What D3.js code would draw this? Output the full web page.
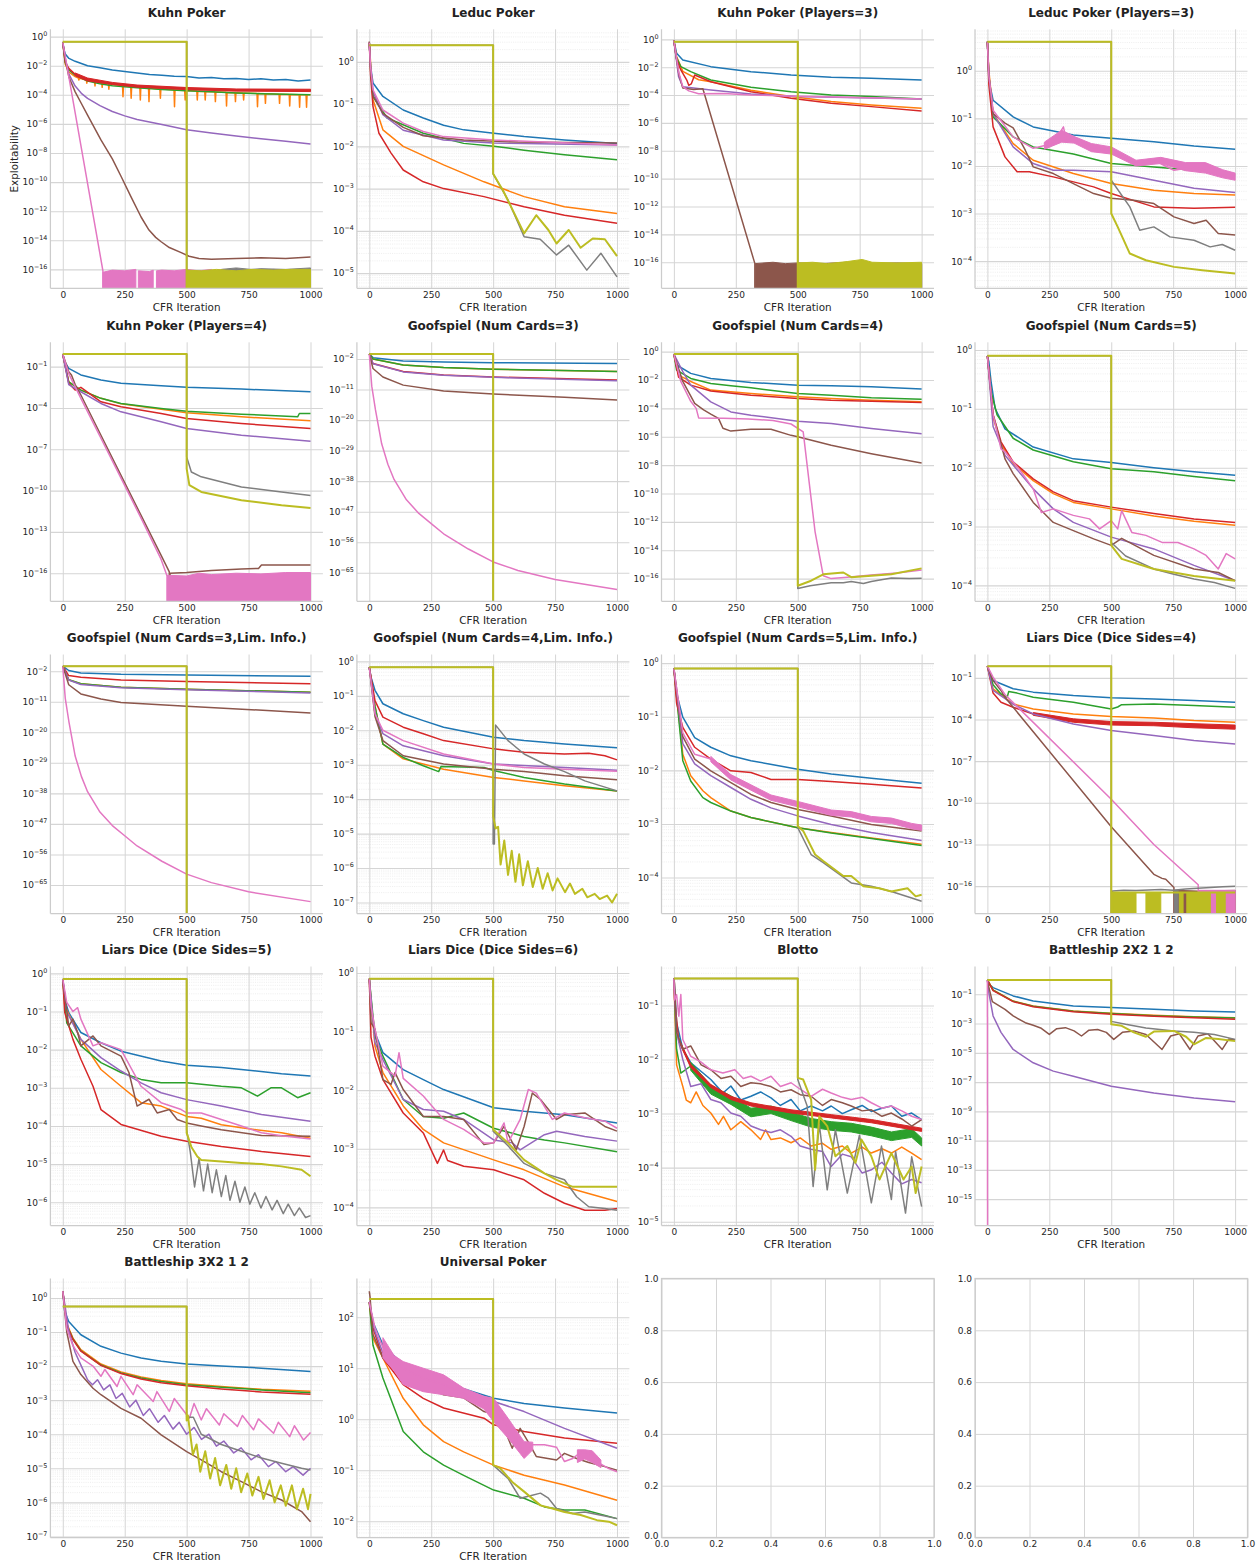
<!DOCTYPE html>
<html><head><meta charset="utf-8">
<script src="https://cdn.jsdelivr.net/npm/d3@7"></script>
<style>body{margin:0;background:#fff} svg{display:block} text{font-family:"DejaVu Sans",sans-serif}</style>
</head><body><svg id="c" width="1260" height="1566"></svg>
<script>
// ---------- DATA ----------
const COLORS = ["#1f77b4","#ff7f0e","#2ca02c","#d62728","#9467bd","#8c564b","#e377c2","#7f7f7f","#bcbd22"];
const TITLES = ["Kuhn Poker","Leduc Poker","Kuhn Poker (Players=3)","Leduc Poker (Players=3)",
 "Kuhn Poker (Players=4)","Goofspiel (Num Cards=3)","Goofspiel (Num Cards=4)","Goofspiel (Num Cards=5)",
 "Goofspiel (Num Cards=3,Lim. Info.)","Goofspiel (Num Cards=4,Lim. Info.)","Goofspiel (Num Cards=5,Lim. Info.)","Liars Dice (Dice Sides=4)",
 "Liars Dice (Dice Sides=5)","Liars Dice (Dice Sides=6)","Blotto","Battleship 2X2 1 2",
 "Battleship 3X2 1 2","Universal Poker"];
const X_LABEL = "CFR Iteration";
const Y_LABEL = "Exploitability";
const X_TICKS = [0,250,500,750,1000];
const EMPTY_TICKS = [0,0.2,0.4,0.6,0.8,1.0];
// y limits as log10 exponents [bottom, top]
const Y_LIMITS = [[-17.3,0.5],[-5.36,0.77],[-17.87,0.72],[-4.57,0.87],[-18.04,0.77],[-73.4,2.92],[-17.6,0.66],[-4.27,0.13],
 [-73.4,2.92],[-7.32,0.2],[-4.67,0.16],[-17.97,0.68],[-6.61,0.18],[-4.31,0.11],[-5.07,-0.28],[-16.8,0.9],[-7.03,0.57],[-2.32,2.76]];
// y major tick exponents [lowest, highest, step]
const Y_TICK_RULES = [[-16,0,2],[-5,0,1],[-16,0,2],[-4,0,1],[-16,-1,3],[-65,-2,9],[-16,0,2],[-4,0,1],
 [-65,-2,9],[-7,0,1],[-4,0,1],[-16,-1,3],[-6,0,1],[-4,0,1],[-5,-1,1],[-15,-1,2],[-7,0,1],[-2,2,1]];

// Each panel: 9 series (blue, orange, green, red, purple, brown, pink, gray, olive),
// each a flat list of [iteration, log10(exploitability)] pairs. -99 = zero (clipped to axis bottom).
const KUHN = [
 [0,-0.4,5,-0.9,10,-1.2,25,-1.5,50,-1.7,75,-1.85,100,-2.0,150,-2.15,200,-2.3,250,-2.4,300,-2.5,350,-2.6,400,-2.65,450,-2.72,500,-2.75,550,-2.85,600,-2.82,650,-2.9,700,-2.88,750,-2.95,800,-2.9,850,-2.98,900,-2.95,950,-3.05,1000,-2.98],
 [0,-0.4,10,-1.9,25,-2.45,50,-2.75,63,-2.85,65,-2.98,67,-2.87,95,-2.98,97,-3.2,99,-3.0,128,-3.08,130,-3.39,132,-3.1,157,-3.15,159,-3.49,161,-3.17,184,-3.22,186,-3.62,188,-3.24,241,-3.35,243,-4.13,245,-3.36,274,-3.42,276,-4.24,278,-3.43,311,-3.48,313,-4.36,315,-3.49,346,-3.53,348,-4.47,350,-3.54,392,-3.6,394,-4.24,396,-3.6,449,-3.66,451,-4.82,453,-3.67,492,-3.7,494,-4.36,496,-3.71,541,-3.74,543,-4.36,545,-3.75,573,-3.77,575,-4.36,577,-3.78,614,-3.8,616,-4.47,618,-3.81,659,-3.83,661,-4.77,663,-3.84,695,-3.86,697,-4.47,699,-3.86,728,-3.88,730,-4.36,732,-3.88,784,-3.91,786,-4.82,788,-3.91,816,-3.93,818,-4.59,820,-3.93,873,-3.96,875,-4.59,877,-3.96,914,-3.98,916,-4.77,918,-3.98,954,-4.0,956,-4.86,958,-4.0,982,-4.0,984,-4.86,986,-4.0,1000,-4.0],
 [0,-0.4,10,-1.8,25,-2.3,50,-2.65,100,-3.05,150,-3.25,200,-3.38,300,-3.52,400,-3.63,500,-3.72,600,-3.8,700,-3.87,800,-3.93,900,-3.97,1000,-4.0],
 [0,-0.4,10,-1.75,25,-2.2,50,-2.6,100,-2.95,150,-3.12,200,-3.23,300,-3.4,400,-3.5,500,-3.57,600,-3.62,700,-3.66,800,-3.68,900,-3.7,1000,-3.7],
 [0,-0.4,5,-1.0,10,-1.5,25,-2.6,50,-3.4,75,-3.9,100,-4.25,150,-4.75,200,-5.15,250,-5.45,300,-5.7,400,-6.05,500,-6.4,600,-6.62,700,-6.83,800,-7.02,900,-7.2,1000,-7.38],
 [0,-0.4,10,-1.6,25,-2.8,50,-3.8,75,-4.6,100,-5.4,154,-7.1,200,-8.4,235,-9.6,275,-11.0,316,-12.4,348,-13.3,375,-13.8,397,-14.1,430,-14.5,478,-14.85,510,-15.1,550,-15.25,600,-15.3,700,-15.25,800,-15.2,900,-15.25,1000,-15.15],
 [0,-0.4,162,-16.1,163,-99],
 [0,-0.35,500,-0.35,500,-99],
 [0,-0.35,500,-0.35,500,-99]
];
const LEDUC = [
 [0,0.45,5,-0.1,15,-0.5,55,-0.82,137,-1.14,218,-1.33,300,-1.5,381,-1.61,503,-1.69,625,-1.77,788,-1.85,1000,-1.93],
 [0,0.45,5,0.0,15,-0.9,55,-1.61,137,-2.0,300,-2.44,463,-2.84,625,-3.19,788,-3.43,1000,-3.59],
 [0,0.45,5,-0.1,15,-0.82,72,-1.33,218,-1.69,381,-1.93,503,-2.0,625,-2.09,788,-2.2,1000,-2.32],
 [0,0.45,5,-0.3,15,-1.06,39,-1.69,88,-2.16,137,-2.56,218,-2.84,300,-3.0,463,-3.19,625,-3.43,788,-3.63,1000,-3.82],
 [0,0.45,5,-0.1,15,-0.7,55,-1.25,137,-1.62,300,-1.85,500,-1.92,1000,-1.97],
 [0,0.48,5,-0.2,15,-0.8,55,-1.22,137,-1.55,218,-1.75,381,-1.85,600,-1.9,1000,-1.92],
 [0,0.45,5,-0.1,15,-0.66,55,-1.14,137,-1.45,218,-1.65,300,-1.77,503,-1.85,1000,-1.97],
 [0,0.39,500,0.39,500,-2.65,560,-3.27,625,-4.14,690,-4.2,756,-4.57,805,-4.34,878,-4.93,935,-4.53,1000,-5.09],
 [0,0.39,500,0.39,500,-2.65,542,-3.07,625,-4.06,674,-3.63,723,-3.98,756,-4.3,805,-3.98,853,-4.4,902,-4.18,951,-4.2,1000,-4.6]
];
const KUHN3 = [
 [0,-0.1,11,-1.0,36,-1.48,149,-1.96,311,-2.32,473,-2.56,635,-2.73,797,-2.8,1000,-2.92],
 [0,-0.1,10,-1.2,36,-2.3,100,-2.9,149,-3.04,311,-3.66,473,-4.11,635,-4.47,797,-4.71,1000,-4.95],
 [0,-0.1,10,-1.3,28,-1.96,68,-2.32,149,-2.92,311,-3.44,473,-3.76,635,-4.0,797,-4.11,1000,-4.28],
 [0,-0.1,10,-1.4,28,-2.2,52,-2.92,60,-3.3,70,-3.2,84,-2.56,149,-3.04,311,-3.76,473,-4.23,635,-4.59,797,-4.83,1000,-5.14],
 [0,-0.1,19,-2.68,36,-3.4,149,-3.64,311,-3.92,500,-4.11,1000,-4.28],
 [0,-0.1,20,-2.5,36,-3.5,80,-3.6,117,-3.55,327,-16.1,328,-99],
 [0,-0.1,20,-2.4,36,-3.4,60,-3.7,100,-3.9,200,-3.88,311,-4.0,500,-4.08,700,-4.15,1000,-4.28],
 [0,-0.17,500,-0.17,500,-99],
 [0,-0.17,500,-0.17,500,-99]
];
const LEDUC3 = [
 [0,0.61,6,-0.2,23,-0.62,104,-0.97,185,-1.18,347,-1.35,500,-1.42,672,-1.49,834,-1.58,1000,-1.65],
 [0,0.61,6,0.0,23,-0.9,104,-1.53,185,-1.88,347,-2.16,500,-2.37,672,-2.51,834,-2.58,1000,-2.61],
 [0,0.61,6,-0.1,23,-0.97,104,-1.39,185,-1.6,347,-1.75,500,-1.95,672,-2.02,834,-2.09,1000,-2.19],
 [0,0.61,6,-0.3,23,-1.18,71,-1.81,120,-2.12,169,-2.12,266,-2.23,429,-2.44,500,-2.58,672,-2.86,834,-2.89,1000,-2.87],
 [0,0.61,6,-0.1,23,-0.9,104,-1.6,185,-1.95,266,-2.09,347,-2.09,500,-2.12,672,-2.3,834,-2.47,1000,-2.56],
 [0,0.61,6,-0.1,23,-0.9,71,-1.1,104,-1.2,153,-1.67,185,-2.02,266,-2.16,347,-2.37,429,-2.58,500,-2.68,591,-2.72,672,-2.79,753,-3.07,834,-3.21,883,-3.14,932,-3.42,1000,-3.45],
 [0,0.61,6,-0.1,23,-0.83,104,-1.39,185,-1.63,266,-1.53,307,-1.18,320,-1.5,347,-1.39,420,-1.6,500,-1.67,591,-1.95,672,-1.88,753,-2.09,834,-2.02,916,-2.16,1000,-2.23],
 [0,0.61,500,0.61,500,-2.3,575,-2.86,615,-3.35,672,-3.28,737,-3.49,834,-3.56,899,-3.7,948,-3.65,1000,-3.77],
 [0,0.61,500,0.61,500,-3.0,526,-3.28,575,-3.84,640,-3.98,753,-4.12,867,-4.19,1000,-4.26]
];
const KUHN4 = [
 [0,-0.1,8,-0.64,24,-1.12,73,-1.6,154,-1.97,235,-2.21,397,-2.38,500,-2.5,721,-2.63,1000,-2.82],
 [0,-0.1,24,-2.1,73,-2.7,154,-3.3,235,-3.7,397,-4.1,500,-4.35,721,-4.64,1000,-4.93],
 [0,-0.1,24,-2.1,73,-2.7,154,-3.3,235,-3.67,397,-4.03,500,-4.23,721,-4.45,948,-4.64,955,-4.4,1000,-4.4],
 [0,-0.1,24,-2.2,50,-2.7,73,-2.5,154,-3.55,235,-3.91,397,-4.4,500,-4.76,721,-5.13,1000,-5.49],
 [0,-0.1,24,-2.3,73,-2.82,154,-3.67,235,-4.28,397,-5.0,500,-5.49,721,-5.98,1000,-6.41],
 [0,-0.1,24,-1.36,35,-1.6,50,-2.3,73,-3.06,154,-5.98,235,-8.9,316,-11.8,397,-14.7,430,-15.9,431,-99,433,-16.0,500,-15.95,600,-15.8,721,-15.7,790,-15.65,802,-15.4,1000,-15.4],
 [0,-0.1,24,-1.5,73,-3.3,154,-6.2,235,-9.1,316,-12.0,397,-15.0,421,-16.2,422,-99],
 [0,-0.08,500,-0.08,500,-7.55,519,-8.65,559,-9.0,721,-9.74,883,-10.1,1000,-10.35],
 [0,-0.08,500,-0.08,500,-8.4,511,-9.6,559,-10.1,721,-10.7,883,-11.07,1000,-11.27]
];
const GOOF3 = [
 [0,-0.5,15,-1.6,137,-2.6,300,-2.9,500,-3.1,1000,-3.3],
 [0,-0.5,15,-2.0,137,-3.8,300,-4.5,500,-5.0,1000,-5.7],
 [0,-0.5,15,-2.0,137,-3.8,300,-4.5,500,-5.0,1000,-5.7],
 [0,-0.5,15,-3.3,137,-5.7,300,-6.7,500,-7.3,1000,-8.2],
 [0,-0.5,15,-3.4,137,-5.8,300,-6.8,500,-7.4,1000,-8.4],
 [0,-0.5,15,-4.8,55,-7.3,137,-9.7,300,-11.4,500,-12.3,788,-13.3,1000,-14.1],
 [0,-0.5,10,-10,25,-17,50,-27,75,-33,100,-37.5,150,-43.5,200,-47.5,250,-50.5,300,-53.5,400,-58,500,-61.8,600,-64.3,750,-67,1000,-69.9],
 [0,-0.52,500,-0.52,500,-99],
 [0,-0.52,500,-0.52,500,-99]
];
const GOOF4 = [
 [0,-0.17,11,-0.94,68,-1.53,149,-1.89,311,-2.17,500,-2.36,635,-2.4,797,-2.48,1000,-2.64],
 [0,-0.17,19,-1.65,68,-2.1,149,-2.71,311,-2.95,500,-3.18,635,-3.3,797,-3.42,1000,-3.54],
 [0,-0.17,11,-1.3,68,-1.89,149,-2.24,230,-2.4,311,-2.55,500,-2.95,635,-3.07,797,-3.25,1000,-3.35],
 [0,-0.17,19,-1.8,68,-2.36,149,-2.78,311,-3.07,500,-3.3,635,-3.42,797,-3.5,1000,-3.58],
 [0,-0.17,36,-1.41,68,-2.36,149,-3.54,230,-4.25,311,-4.48,500,-4.9,635,-5.07,797,-5.42,1000,-5.78],
 [0,-0.17,36,-2.1,84,-3.65,120,-4.1,149,-4.4,180,-4.7,198,-5.4,230,-5.6,311,-5.47,392,-5.47,473,-5.9,500,-6.0,635,-6.6,797,-7.19,1000,-7.85],
 [0,-0.17,28,-2.1,68,-3.5,90,-4.0,100,-4.67,200,-4.7,300,-4.75,400,-4.85,473,-5.1,522,-5.66,546,-9.2,570,-12.7,603,-15.8,635,-16.0,700,-15.9,797,-15.75,900,-15.6,1000,-15.4],
 [0,-0.17,500,-0.17,500,-16.7,550,-16.5,635,-16.3,684,-16.3,716,-16.2,765,-16.35,797,-16.2,878,-15.95,950,-16.0,1000,-15.97],
 [0,-0.17,500,-0.17,500,-16.5,554,-16.15,603,-15.7,684,-15.57,716,-15.9,797,-15.8,878,-15.7,1000,-15.28]
];
const GOOF5 = [
 [0,-0.1,6,-0.2,15,-0.54,31,-0.99,71,-1.34,185,-1.65,347,-1.85,500,-1.91,672,-2.0,834,-2.07,1000,-2.13],
 [0,-0.1,23,-1.15,55,-1.6,104,-1.93,185,-2.22,266,-2.44,347,-2.59,500,-2.7,672,-2.82,834,-2.91,1000,-2.98],
 [0,-0.1,15,-0.71,39,-1.1,104,-1.5,185,-1.7,347,-1.9,500,-2.02,672,-2.07,834,-2.15,1000,-2.22],
 [0,-0.1,23,-1.1,55,-1.56,104,-1.9,185,-2.19,266,-2.41,347,-2.56,500,-2.67,672,-2.78,834,-2.87,1000,-2.93],
 [0,-0.1,23,-1.3,71,-1.79,185,-2.36,266,-2.7,347,-2.93,500,-3.18,672,-3.38,834,-3.66,1000,-3.92],
 [0,-0.1,23,-1.1,71,-1.85,104,-2.1,185,-2.59,266,-2.93,347,-3.07,429,-3.21,500,-3.32,542,-3.2,672,-3.49,834,-3.72,932,-3.78,1000,-3.92],
 [0,-0.1,23,-1.1,55,-1.68,71,-1.73,104,-1.9,136,-2.07,185,-2.36,218,-2.76,266,-2.7,347,-2.81,412,-2.87,453,-3.04,500,-2.9,526,-3.04,542,-2.73,583,-3.1,640,-3.15,705,-3.27,769,-3.27,834,-3.38,883,-3.49,932,-3.72,964,-3.46,1000,-3.55],
 [0,-0.1,500,-0.1,500,-3.27,558,-3.5,672,-3.72,753,-3.81,834,-3.89,916,-3.95,1000,-4.05],
 [0,-0.1,500,-0.1,500,-3.32,542,-3.55,672,-3.72,834,-3.84,1000,-3.92]
];
const GOOF3_LIM = [
 [0,-0.5,24,-1.8,73,-2.5,235,-2.9,500,-3.1,1000,-3.5],
 [0,-0.5,24,-4.5,73,-5.7,235,-6.7,500,-7.3,1000,-8.2],
 [0,-0.5,24,-4.5,73,-5.7,235,-6.7,500,-7.3,1000,-8.2],
 [0,-0.5,24,-3.3,73,-3.8,235,-4.6,500,-5.0,1000,-5.7],
 [0,-0.5,24,-4.6,73,-5.9,235,-6.9,500,-7.5,1000,-8.4],
 [0,-0.5,24,-6.0,73,-8.7,154,-10.2,235,-11.2,500,-12.3,1000,-14.3],
 [0,-0.5,10,-10,25,-17,50,-27,75,-33,100,-37.5,150,-43.5,200,-47.5,250,-50.5,300,-53.5,400,-58,500,-61.8,600,-64.3,750,-67,1000,-69.9],
 [0,-0.52,500,-0.52,500,-99],
 [0,-0.52,500,-0.52,500,-99]
];
const GOOF4_LIM = [
 [0,-0.17,7,-0.46,23,-0.84,55,-1.23,137,-1.52,218,-1.72,300,-1.91,502,-2.2,625,-2.3,788,-2.4,1000,-2.51],
 [0,-0.17,23,-1.3,55,-2.4,137,-2.83,300,-3.13,502,-3.37,625,-3.47,788,-3.61,1000,-3.76],
 [0,-0.17,23,-1.3,55,-2.4,137,-2.79,218,-3.03,280,-3.2,290,-3.05,463,-3.08,502,-3.17,625,-3.37,788,-3.56,1000,-3.76],
 [0,-0.17,23,-1.14,55,-1.62,137,-1.91,218,-2.1,300,-2.3,502,-2.54,625,-2.64,788,-2.69,886,-2.67,951,-2.74,1000,-2.86],
 [0,-0.17,23,-1.5,55,-2.1,137,-2.45,300,-2.74,502,-2.98,788,-3.08,1000,-3.16],
 [0,-0.17,23,-1.6,55,-2.3,137,-2.74,300,-2.98,502,-3.13,625,-3.2,788,-3.32,1000,-3.44],
 [0,-0.17,23,-1.52,55,-2.0,137,-2.3,300,-2.69,502,-2.98,625,-3.08,788,-3.13,1000,-3.19],
 [0,-0.17,500,-0.17,500,-5.3,505,-5.3,510,-1.85,560,-2.3,625,-2.69,707,-2.98,788,-3.2,870,-3.47,1000,-3.76],
 [0,-0.17,500,-0.17,500,-4.5,510,-4.85,520,-4.8,530,-5.9,545,-5.2,560,-6.2,575,-5.5,590,-6.4,605,-5.6,620,-6.5,640,-5.8,660,-6.55,680,-6.0,700,-6.6,720,-6.15,740,-6.65,760,-6.3,790,-6.7,810,-6.45,830,-6.75,860,-6.6,880,-6.85,910,-6.75,930,-6.9,960,-6.8,980,-7.0,1000,-6.75]
];
const GOOF5_LIM = [
 [0,-0.1,11,-0.57,36,-1.01,84,-1.39,149,-1.57,230,-1.73,311,-1.82,500,-1.98,635,-2.07,797,-2.15,1000,-2.24],
 [0,-0.1,36,-1.7,68,-2.1,117,-2.38,149,-2.51,230,-2.76,311,-2.88,500,-3.07,635,-3.16,797,-3.26,1000,-3.38],
 [0,-0.1,36,-1.82,68,-2.2,117,-2.51,149,-2.6,230,-2.76,311,-2.88,500,-3.07,635,-3.17,797,-3.27,1000,-3.4],
 [0,-0.1,11,-0.75,36,-1.2,84,-1.57,149,-1.79,230,-2.01,311,-2.04,392,-2.17,500,-2.17,635,-2.21,797,-2.26,1000,-2.33],
 [0,-0.1,36,-1.5,84,-1.88,149,-2.1,230,-2.32,311,-2.54,392,-2.7,500,-2.85,635,-3.01,797,-3.16,1000,-3.31],
 [0,-0.1,36,-1.37,84,-1.79,149,-2.01,230,-2.23,311,-2.45,392,-2.6,500,-2.73,635,-2.85,797,-3.01,1000,-3.13],
 [0,-0.1,36,-1.3,84,-1.7,149,-1.79,230,-2.13,311,-2.32,392,-2.51,500,-2.63,635,-2.79,716,-2.82,797,-2.91,878,-2.94,960,-3.04,1000,-3.07],
 [0,-0.1,500,-0.1,500,-3.07,554,-3.57,603,-3.72,716,-4.1,797,-4.16,878,-4.26,960,-4.38,1000,-4.44],
 [0,-0.1,500,-0.1,500,-3.04,522,-3.13,570,-3.57,603,-3.69,684,-3.97,716,-3.97,765,-4.16,829,-4.2,878,-4.26,943,-4.2,976,-4.35,1000,-4.32]
];
const LIARS4 = [
 [0,-0.16,6,-0.47,23,-1.19,104,-1.79,185,-2.03,347,-2.28,500,-2.44,672,-2.52,834,-2.64,1000,-2.76],
 [0,-0.16,23,-1.8,104,-2.88,185,-3.24,347,-3.6,500,-3.79,672,-3.89,834,-4.08,1000,-4.2],
 [0,-0.16,23,-1.5,55,-2.16,80,-2.4,86,-1.99,120,-2.1,185,-2.4,347,-2.76,500,-3.24,526,-3.1,542,-2.93,672,-2.88,834,-3.0,1000,-3.12],
 [0,-0.16,23,-2.1,55,-2.76,104,-3.12,185,-3.6,347,-4.08,500,-4.27,672,-4.32,834,-4.44,1000,-4.56],
 [0,-0.16,23,-1.9,104,-2.9,185,-3.6,347,-4.32,500,-4.8,672,-5.16,834,-5.52,1000,-5.77],
 [0,-0.16,23,-1.2,55,-1.91,71,-2.4,500,-11.73,672,-15.15,705,-15.44,720,-15.5,753,-16.1,755,-99],
 [0,-0.16,23,-0.95,71,-2.2,500,-9.74,672,-13.0,851,-15.9,853,-99],
 [0,-0.16,500,-0.16,500,-99,505,-16.35,550,-16.3,600,-16.32,650,-16.28,700,-16.25,750,-16.3,800,-16.2,850,-16.15,900,-16.1,950,-16.05,1000,-16.0],
 [0,-0.16,500,-0.16,500,-99,505,-16.45,1000,-16.45]
];
const LIARS5 = [
 [0,-0.15,8,-0.68,24,-1.03,73,-1.55,154,-1.82,235,-2.04,397,-2.3,500,-2.41,640,-2.47,721,-2.52,883,-2.63,1000,-2.69],
 [0,-0.15,8,-0.85,41,-1.3,73,-1.73,154,-2.52,235,-2.96,316,-3.39,397,-3.48,500,-3.75,559,-3.8,640,-3.97,721,-4.05,883,-4.18,1000,-4.32],
 [0,-0.15,16,-1.3,73,-1.9,154,-2.34,235,-2.6,316,-2.78,397,-2.87,500,-2.87,640,-2.96,721,-3.0,786,-3.22,840,-3.0,883,-3.0,948,-3.26,1000,-3.13],
 [0,-0.15,8,-1.03,41,-1.73,73,-2.25,122,-2.96,154,-3.57,235,-3.96,397,-4.27,500,-4.4,640,-4.54,802,-4.67,1000,-4.8],
 [0,-0.15,16,-1.0,73,-1.73,154,-2.21,235,-2.56,316,-2.87,397,-3.13,500,-3.31,640,-3.48,802,-3.7,1000,-3.88],
 [0,-0.15,24,-1.38,41,-1.2,60,-1.55,73,-1.9,122,-1.64,154,-1.9,235,-2.17,267,-2.6,300,-3.48,348,-3.3,381,-3.66,430,-3.57,462,-3.83,500,-3.92,559,-4.0,640,-4.1,802,-4.25,1000,-4.27],
 [0,-0.15,16,-0.76,41,-1.0,60,-0.9,73,-1.2,122,-1.9,154,-1.82,235,-2.0,316,-2.96,397,-3.39,478,-3.57,500,-3.66,559,-3.66,640,-3.83,721,-4.0,802,-4.18,883,-4.26,1000,-4.34],
 [0,-0.15,500,-0.15,500,-4.1,515,-4.7,532,-5.6,550,-4.85,568,-5.7,585,-5.0,603,-5.75,620,-5.15,640,-5.85,658,-5.3,675,-5.95,695,-5.45,715,-6.0,735,-5.6,755,-6.05,775,-5.75,800,-6.15,820,-5.85,845,-6.2,865,-5.95,890,-6.3,910,-6.05,935,-6.35,955,-6.15,980,-6.4,1000,-6.35],
 [0,-0.15,500,-0.15,500,-4.18,519,-4.55,543,-4.8,559,-4.89,640,-4.93,721,-4.97,802,-5.0,883,-5.06,964,-5.15,1000,-5.32]
];
const LIARS6 = [
 [0,-0.1,7,-0.56,23,-1.02,55,-1.36,137,-1.65,218,-1.82,300,-1.99,502,-2.3,625,-2.36,788,-2.42,1000,-2.56],
 [0,-0.1,23,-1.25,55,-1.7,137,-2.27,218,-2.67,300,-2.9,502,-3.19,625,-3.36,788,-3.65,1000,-3.9],
 [0,-0.1,23,-1.08,55,-1.42,137,-2.16,218,-2.45,300,-2.48,381,-2.39,502,-2.65,625,-2.79,707,-2.85,788,-2.9,1000,-3.05],
 [0,-0.1,7,-1.1,23,-1.42,55,-1.82,137,-2.39,218,-2.73,275,-3.25,300,-3.02,316,-3.2,381,-3.3,502,-3.36,625,-3.53,707,-3.76,788,-3.93,870,-4.05,951,-4.05,1000,-4.02],
 [0,-0.1,23,-1.19,55,-1.48,137,-2.16,218,-2.33,300,-2.36,381,-2.5,502,-2.85,577,-2.9,609,-3.02,707,-2.76,756,-2.7,870,-2.79,1000,-2.87],
 [0,-0.1,7,-0.85,23,-0.96,55,-1.82,88,-1.9,104,-1.7,137,-1.99,218,-2.45,300,-2.45,381,-2.5,463,-2.93,502,-2.9,544,-2.62,593,-3.02,625,-2.62,658,-2.05,691,-2.16,756,-2.5,788,-2.42,870,-2.39,951,-2.62,1000,-2.7],
 [0,-0.1,7,-0.56,23,-0.96,55,-1.59,104,-1.76,120,-1.36,137,-1.8,218,-2.1,300,-2.5,381,-2.67,463,-2.9,502,-2.9,544,-2.56,560,-2.9,609,-2.5,642,-1.99,674,-2.05,739,-2.5,788,-2.39,870,-2.47,951,-2.53,1000,-2.65],
 [0,-0.1,500,-0.1,500,-2.7,560,-2.95,625,-3.25,707,-3.42,788,-3.53,837,-3.82,886,-3.99,951,-4.02,1000,-4.05],
 [0,-0.1,500,-0.1,500,-2.67,560,-2.9,625,-3.19,707,-3.42,756,-3.53,821,-3.65,870,-3.65,1000,-3.65]
];
const BLOTTO = [
 [0,-0.5,3,-0.7,11,-1.32,36,-1.81,68,-2.06,149,-2.37,198,-2.62,230,-2.49,270,-2.75,311,-2.68,350,-2.6,392,-2.71,430,-2.85,473,-2.74,510,-2.95,554,-2.86,600,-2.95,635,-2.86,680,-3.0,716,-2.93,760,-2.85,797,-2.96,840,-2.9,878,-2.86,920,-3.05,960,-2.99,1000,-3.11],
 [0,-0.5,11,-2.1,36,-2.5,50,-2.75,68,-2.8,90,-2.6,117,-2.85,149,-2.99,180,-3.2,200,-3.05,230,-3.3,270,-3.15,311,-3.3,350,-3.48,370,-3.3,392,-3.48,430,-3.45,473,-3.54,510,-3.45,554,-3.6,600,-3.55,635,-3.66,680,-3.6,716,-3.73,760,-3.62,797,-3.73,840,-3.65,878,-3.73,920,-3.62,960,-3.73,1000,-3.85],
 [0,-0.5,11,-1.81,28,-2.25,68,-2.12,149,-2.56,230,-2.75,311,-2.99,392,-2.93,473,-3.05,554,-3.17,635,-3.23,716,-3.26,797,-3.33,878,-3.42,960,-3.36,1000,-3.54],
 [0,-0.5,3,-0.9,19,-1.63,68,-2.12,149,-2.49,230,-2.71,311,-2.83,473,-2.96,635,-3.05,797,-3.14,1000,-3.3],
 [0,-0.5,11,-1.5,36,-2.0,68,-2.5,110,-2.45,149,-2.74,190,-2.8,230,-2.99,270,-3.05,311,-3.23,350,-3.3,392,-3.35,430,-3.3,473,-3.42,510,-3.6,554,-3.66,600,-3.7,635,-3.98,680,-3.75,716,-3.8,760,-4.1,797,-4.04,840,-3.9,878,-4.1,920,-4.3,960,-4.22,1000,-4.28],
 [0,-0.5,3,-0.6,11,-1.5,36,-1.81,68,-1.75,110,-2.1,149,-2.19,190,-2.35,230,-2.31,270,-2.5,311,-2.43,350,-2.45,392,-2.5,430,-2.6,473,-2.56,510,-2.65,554,-2.68,600,-2.85,635,-2.74,680,-2.8,716,-2.86,760,-2.95,797,-2.93,840,-3.05,878,-2.99,920,-3.1,960,-3.23,1000,-3.11],
 [0,-0.5,3,-0.9,11,-0.8,20,-1.2,28,-0.8,36,-1.63,68,-1.94,110,-2.05,149,-2.19,198,-2.25,246,-2.19,280,-2.35,311,-2.31,350,-2.4,392,-2.31,430,-2.5,473,-2.43,510,-2.55,554,-2.68,600,-2.55,635,-2.62,680,-2.7,716,-2.74,760,-2.7,797,-2.8,840,-2.9,878,-2.86,920,-2.95,960,-3.05,1000,-3.11],
 [0,-0.5,500,-0.5,500,-2.37,538,-2.86,562,-4.35,587,-3.2,619,-4.41,652,-3.3,700,-4.47,749,-3.4,797,-4.65,838,-3.6,878,-4.59,895,-3.7,935,-4.84,960,-3.8,1000,-4.72],
 [0,-0.5,500,-0.5,500,-2.34,522,-2.37,554,-2.74,570,-4.04,587,-3.05,619,-3.23,652,-3.79,700,-3.6,733,-3.91,757,-3.48,797,-3.79,830,-4.22,878,-3.73,927,-4.22,960,-3.98,976,-4.47,1000,-3.98]
];
const BATTLESHIP_2X2 = [
 [0,-0.02,6,-0.3,23,-0.54,104,-1.11,185,-1.46,347,-1.8,500,-1.91,672,-2.03,834,-2.14,1000,-2.21],
 [0,-0.02,23,-0.7,104,-1.46,185,-1.8,347,-2.14,500,-2.3,672,-2.44,834,-2.53,1000,-2.6],
 [0,-0.02,23,-0.72,104,-1.48,185,-1.82,347,-2.16,500,-2.32,672,-2.46,834,-2.55,1000,-2.62],
 [0,-0.02,23,-0.75,104,-1.5,185,-1.85,347,-2.2,500,-2.37,672,-2.5,834,-2.6,1000,-2.71],
 [0,-0.02,6,-0.9,23,-2.48,55,-3.6,104,-4.77,185,-5.68,266,-6.25,347,-6.6,500,-7.28,672,-7.74,834,-8.08,1000,-8.35],
 [0,-0.1,20,-1.5,71,-2.03,104,-2.48,153,-2.94,185,-3.12,215,-3.3,250,-3.74,280,-3.35,315,-3.28,350,-3.5,380,-3.85,410,-3.45,445,-3.4,480,-3.6,510,-4.08,545,-3.6,591,-3.5,640,-3.75,705,-4.77,740,-3.85,775,-3.7,818,-4.77,850,-3.85,890,-3.7,948,-4.77,975,-4.05,1000,-4.1],
 [0,-0.02,4,-99],
 [0,-0.02,500,-0.02,500,-2.85,558,-3.05,640,-3.3,753,-3.5,834,-3.6,916,-3.75,1000,-4.08],
 [0,-0.02,500,-0.02,500,-3.05,542,-3.15,591,-3.6,640,-3.9,672,-3.55,753,-3.5,802,-3.9,834,-4.42,883,-3.98,932,-4.05,1000,-4.2]
];
const BATTLESHIP_3X2 = [
 [0,0.2,8,-0.4,24,-0.69,73,-1.08,154,-1.42,235,-1.62,316,-1.76,397,-1.86,500,-1.94,640,-2.0,802,-2.06,1000,-2.16],
 [0,0.2,16,-0.75,41,-1.18,73,-1.52,154,-1.94,235,-2.17,316,-2.32,397,-2.42,500,-2.52,640,-2.6,802,-2.68,1000,-2.74],
 [0,0.2,16,-0.8,41,-1.2,73,-1.55,154,-1.97,235,-2.2,316,-2.35,397,-2.45,500,-2.55,640,-2.62,802,-2.7,1000,-2.78],
 [0,0.2,16,-0.8,41,-1.22,73,-1.56,154,-1.98,235,-2.22,316,-2.38,397,-2.49,500,-2.58,640,-2.67,802,-2.76,1000,-2.83],
 [0,0.2,25,-1.0,50,-1.6,75,-2.0,100,-2.4,120,-2.55,140,-2.4,165,-2.7,190,-2.55,215,-2.95,240,-2.8,270,-3.2,295,-3.0,325,-3.45,350,-3.25,385,-3.65,410,-3.45,445,-3.85,470,-3.65,500,-4.0,530,-3.8,560,-4.15,590,-4.0,620,-4.35,650,-4.2,690,-4.55,720,-4.4,760,-4.75,790,-4.6,830,-4.95,860,-4.8,900,-5.1,930,-4.95,970,-5.2,1000,-5.0],
 [0,0.2,16,-1.0,41,-1.86,73,-2.25,122,-2.65,154,-2.84,235,-3.24,316,-3.53,397,-4.02,500,-4.51,559,-4.75,640,-5.1,721,-5.39,802,-5.69,883,-5.93,964,-6.27,1000,-6.57],
 [0,0.2,16,-0.9,41,-1.4,73,-1.76,122,-2.0,154,-2.3,170,-2.1,219,-2.6,235,-2.3,284,-2.84,300,-2.55,365,-3.04,380,-2.75,430,-3.33,450,-2.95,511,-3.53,530,-3.1,559,-3.58,580,-3.25,632,-3.73,650,-3.4,705,-3.77,725,-3.45,770,-3.87,790,-3.55,851,-3.97,870,-3.65,916,-4.07,935,-3.75,972,-4.17,1000,-3.95],
 [0,-0.25,500,-0.25,500,-3.5,527,-3.5,559,-4.0,640,-4.3,721,-4.5,802,-4.7,883,-4.85,964,-5.0,1000,-5.05],
 [0,-0.25,500,-0.25,500,-3.6,505,-3.45,525,-4.6,540,-4.3,555,-5.1,575,-4.5,595,-5.3,615,-4.7,635,-5.5,660,-4.9,680,-5.6,700,-5.0,720,-5.7,745,-5.15,765,-5.8,790,-5.25,810,-5.9,835,-5.35,855,-6.0,880,-5.5,900,-6.1,925,-5.5,945,-6.2,970,-5.6,990,-6.2,1000,-5.75]
];
const UNIVERSAL_POKER = [
 [0,2.3,15,1.9,55,1.46,137,1.07,218,0.85,300,0.72,502,0.41,625,0.31,788,0.22,1000,0.12],
 [0,2.3,15,1.59,55,1.2,137,0.41,218,-0.11,300,-0.44,381,-0.64,502,-0.9,625,-1.1,788,-1.29,1000,-1.59],
 [0,2.3,15,1.45,55,0.81,137,-0.24,218,-0.64,300,-0.9,381,-1.1,502,-1.39,625,-1.55,707,-1.72,788,-1.78,870,-1.78,1000,-1.95],
 [0,2.3,15,1.79,55,1.2,137,0.68,218,0.41,300,0.22,463,0.02,502,-0.11,625,-0.24,788,-0.37,1000,-0.47],
 [0,2.3,23,1.72,55,1.3,137,0.81,218,0.61,300,0.54,463,0.41,625,0.15,788,-0.18,1000,-0.57],
 [0,2.51,3,2.4,15,1.66,55,1.2,88,1.13,137,0.71,186,0.61,218,0.67,300,0.48,381,0.42,463,0.15,511,0.09,544,-0.18,577,-0.57,609,-0.18,642,-0.45,674,-0.73,756,-0.8,788,-0.67,837,-0.77,886,-0.85,951,-0.93,1000,-1.0],
 [0,2.3,23,1.79,55,1.4,137,1.0,218,0.8,300,0.68,381,0.5,463,0.3,502,0.22,560,-0.15,593,-0.4,625,-0.7,658,-0.5,707,-0.5,756,-0.55,788,-0.83,821,-0.77,853,-0.65,902,-0.68,935,-0.88,967,-0.97,1000,-1.03],
 [0,2.36,500,2.36,500,-0.9,560,-1.16,609,-1.55,658,-1.49,691,-1.45,723,-1.55,756,-1.75,821,-1.85,870,-1.82,951,-1.9,1000,-1.95],
 [0,2.36,500,2.36,500,-0.9,528,-0.96,577,-1.23,625,-1.42,691,-1.69,739,-1.75,788,-1.82,853,-1.88,919,-1.98,967,-2.01,1000,-2.08]
];
const PANELS = [KUHN, LEDUC, KUHN3, LEDUC3, KUHN4, GOOF3, GOOF4, GOOF5, GOOF3_LIM, GOOF4_LIM, GOOF5_LIM,
 LIARS4, LIARS5, LIARS6, BLOTTO, BATTLESHIP_2X2, BATTLESHIP_3X2, UNIVERSAL_POKER];

// noise floor near machine precision: [panel, series, iter, topExp, iter, topExp, ...] filled down to zero
const FLOOR_BANDS = [
 [0,6, 162,-16.2, 200,-16.05, 250,-16.1, 295,-16.0],
 [0,6, 305,-16.1, 350,-16.15, 365,-16.05],
 [0,6, 378,-16.1, 400,-16.05, 450,-16.1, 500,-16.0, 550,-16.1, 600,-16.0],
 [0,6, 612,-16.1, 650,-16.0, 700,-16.1, 750,-16.05, 800,-16.1, 850,-16.0, 900,-16.05, 935,-16.1],
 [0,7, 640,-16.0, 700,-15.9, 760,-16.0, 800,-15.95, 900,-16.0, 1000,-15.9],
 [0,8, 500,-16.05, 560,-16.1, 620,-16.0, 700,-16.1, 760,-16.0, 850,-16.05, 920,-16.0, 1000,-16.0],
 [2,5, 328,-16.1, 400,-16.0, 450,-16.1, 500,-16.05, 600,-16.1, 700,-16.0, 800,-16.1, 900,-16.05, 1000,-16.1],
 [2,7, 500,-16.15, 1000,-16.15],
 [2,8, 500,-16.05, 560,-16.0, 620,-16.1, 700,-15.95, 760,-15.8, 800,-16.0, 900,-16.05, 1000,-16.0],
 [4,6, 422,-16.15, 500,-16.2, 550,-16.0, 600,-16.1, 700,-16.0, 800,-16.05, 900,-15.95, 1000,-15.95],
 [11,5, 755,-16.3, 850,-16.35, 1000,-16.3],
 [11,6, 853,-16.3, 1000,-16.3],
 [11,7, 755,-16.3, 770,-16.3],
 [11,8, 505,-16.45, 600,-16.45],
 [11,8, 640,-16.45, 700,-16.45],
 [11,8, 775,-16.45, 790,-16.45],
 [11,8, 805,-16.45, 900,-16.45],
 [11,8, 925,-16.45, 960,-16.45]
];
// thick noisy envelopes: [panel, series, iter, lowExp, highExp, ...]
const WIDE_BANDS = [
 [0,3, 50,-2.7,-2.5, 100,-3.05,-2.85, 200,-3.3,-3.15, 300,-3.48,-3.33, 500,-3.65,-3.5, 700,-3.75,-3.6, 1000,-3.78,-3.62],
 [3,6, 230,-1.65,-1.5, 300,-1.5,-1.25, 350,-1.52,-1.38, 420,-1.7,-1.53, 500,-1.75,-1.6, 600,-2.0,-1.88, 700,-1.95,-1.82, 800,-2.1,-1.93, 880,-2.15,-1.93, 950,-2.25,-2.08, 1000,-2.3,-2.15],
 [10,6, 149,-1.84,-1.74, 230,-2.18,-2.08, 311,-2.37,-2.27, 392,-2.56,-2.46, 500,-2.68,-2.58, 635,-2.84,-2.74, 716,-2.87,-2.77, 797,-2.96,-2.86, 878,-2.99,-2.89, 960,-3.09,-2.99, 1000,-3.12,-3.02],
 [11,3, 185,-3.7,-3.5, 347,-4.2,-3.95, 500,-4.4,-4.15, 672,-4.45,-4.2, 834,-4.6,-4.3, 1000,-4.7,-4.4],
 [14,2, 68,-2.2,-2.05, 149,-2.64,-2.48, 230,-2.83,-2.67, 311,-3.06,-2.9, 392,-3.0,-2.86, 473,-3.13,-2.97, 554,-3.25,-3.09, 635,-3.31,-3.15, 716,-3.34,-3.18, 797,-3.41,-3.25, 878,-3.5,-3.34, 960,-3.44,-3.28, 1000,-3.6,-3.45],
 [14,3, 19,-1.66,-1.6, 68,-2.15,-2.09, 149,-2.52,-2.46, 230,-2.74,-2.68, 311,-2.86,-2.8, 473,-2.99,-2.93, 635,-3.08,-3.02, 797,-3.17,-3.11, 1000,-3.33,-3.27],
 [17,6, 55,1.2,1.6, 100,0.95,1.25, 137,0.68,1.13, 218,0.54,1.0, 300,0.48,0.87, 381,0.41,0.61, 463,0.2,0.45, 502,-0.05,0.41, 560,-0.37,0.02, 625,-0.77,-0.44, 660,-0.6,-0.45],
 [17,6, 840,-0.85,-0.6, 870,-0.78,-0.6, 900,-0.85,-0.62, 935,-0.95,-0.8]
];

// ---------- LAYOUT ----------
const COL_X = [50.4, 356.9, 661.5, 975], AX_W = 272.5;
const ROW_Y = [29.3, 342.3, 654.5, 966.5, 1278.5], AX_H = 259;
const GRID = "#d5d5d5", SPINE = "#cccccc", INK = "#262626";

const svg = d3.select("#c");
const pairs = a => { const r = []; for (let i = 0; i < a.length; i += 2) r.push([a[i], a[i+1]]); return r; };
const triples = a => { const r = []; for (let i = 0; i < a.length; i += 3) r.push([a[i], a[i+1], a[i+2]]); return r; };
const supText = e => e < 0 ? "\u2212" + Math.abs(e) : String(e);

function styleAxis(sel) {
  sel.select(".domain").remove();
  sel.attr("font-family", "DejaVu Sans").attr("font-size", 9);
  sel.selectAll(".tick line").attr("stroke", GRID).attr("stroke-width", 1);
  sel.selectAll(".tick text").attr("fill", INK);
}

PANELS.forEach((series, i) => {
  const col = i % 4, row = Math.floor(i / 4);
  const g = svg.append("g").attr("transform", `translate(${COL_X[col]},${ROW_Y[row]})`);
  const x = d3.scaleLinear().domain([-50, 1050]).range([0, AX_W]);
  const [lo, hi] = Y_LIMITS[i];
  const y = d3.scaleLog().domain([10 ** lo, 10 ** hi]).range([AX_H, 0]);
  const [t0, t1, step] = Y_TICK_RULES[i];
  const majors = d3.range(t0, t1 + 0.001, step);

  g.append("clipPath").attr("id", "clip" + i).append("rect").attr("width", AX_W).attr("height", AX_H);

  if (step === 1) {
    const minors = [];
    for (let e = Math.floor(lo); e <= Math.ceil(hi); e++)
      for (let k = 2; k <= 9; k++) { const v = k * 10 ** e; if (v > 10 ** lo && v < 10 ** hi) minors.push(v); }
    const mg = g.append("g").call(d3.axisLeft(y).tickValues(minors).tickSize(-AX_W).tickFormat(""));
    mg.select(".domain").remove();
    mg.selectAll(".tick line").attr("stroke", "#e2e2e2").attr("stroke-width", 0.6).attr("stroke-dasharray", "1,1.2");
  }

  const xa = g.append("g").attr("transform", `translate(0,${AX_H})`)
    .call(d3.axisBottom(x).tickValues(X_TICKS).tickFormat(d3.format("d")).tickSize(-AX_H).tickPadding(3));
  styleAxis(xa);

  const ya = g.append("g").call(d3.axisLeft(y).tickValues(majors.map(e => 10 ** e)).tickSize(-AX_W).tickPadding(3));
  styleAxis(ya);
  ya.selectAll(".tick line").attr("stroke-width", 1.1);
  ya.selectAll(".tick text").each(function(d, j) {
    const t = d3.select(this); t.text(null);
    t.append("tspan").text("10");
    t.append("tspan").attr("dy", -4).attr("font-size", 6.4).text(supText(majors[j]));
  });

  const plot = g.append("g").attr("clip-path", `url(#clip${i})`);
  const line = d3.line().x(d => x(d[0])).y(d => y(10 ** d[1]));
  const area = d3.area().x(d => x(d[0])).y0(d => y(10 ** d[1])).y1(d => y(10 ** d[2]));

  series.forEach((s, si) => {
    WIDE_BANDS.filter(b => b[0] === i && b[1] === si).forEach(b => {
      plot.append("path").attr("d", area(triples(b.slice(2)))).attr("fill", COLORS[si]).attr("stroke", COLORS[si]).attr("stroke-width", 1);
    });
    FLOOR_BANDS.filter(b => b[0] === i && b[1] === si).forEach(b => {
      const pts = pairs(b.slice(2)).map(p => [p[0], -99, p[1]]);
      plot.append("path").attr("d", area(pts)).attr("fill", COLORS[si]).attr("stroke", COLORS[si]).attr("stroke-width", 1);
    });
    plot.append("path").attr("d", line(pairs(s))).attr("fill", "none")
      .attr("stroke", COLORS[si]).attr("stroke-width", si === 8 ? 2 : 1.5)
      .attr("stroke-linejoin", "round");
  });

  // spines: left & bottom
  g.append("line").attr("x1", 0).attr("x2", 0).attr("y1", 0).attr("y2", AX_H).attr("stroke", SPINE).attr("stroke-width", 1.25);
  g.append("line").attr("x1", 0).attr("x2", AX_W).attr("y1", AX_H).attr("y2", AX_H).attr("stroke", SPINE).attr("stroke-width", 1.25);

  g.append("text").attr("x", AX_W / 2).attr("y", -12.6).attr("text-anchor", "middle")
    .attr("font-size", 12).attr("font-weight", "bold").attr("fill", "#222").text(TITLES[i]);
  g.append("text").attr("x", AX_W / 2).attr("y", AX_H + 22.5).attr("text-anchor", "middle")
    .attr("font-size", 10.4).attr("fill", INK).text(X_LABEL);
  if (i === 0) {
    g.append("text").attr("transform", `translate(${14 - COL_X[0] + 3.7},${AX_H / 2}) rotate(-90)`)
      .attr("text-anchor", "middle").attr("font-size", 10.4).attr("fill", INK).text(Y_LABEL);
  }
});

// two empty axes
[18, 19].forEach(i => {
  const col = i % 4, row = Math.floor(i / 4);
  const g = svg.append("g").attr("transform", `translate(${COL_X[col]},${ROW_Y[row]})`);
  const x = d3.scaleLinear().domain([0, 1]).range([0, AX_W]);
  const y = d3.scaleLinear().domain([0, 1]).range([AX_H, 0]);
  const xa = g.append("g").attr("transform", `translate(0,${AX_H})`)
    .call(d3.axisBottom(x).tickValues(EMPTY_TICKS).tickFormat(d3.format(".1f")).tickSize(-AX_H).tickPadding(3.5));
  styleAxis(xa);
  const ya = g.append("g").call(d3.axisLeft(y).tickValues(EMPTY_TICKS).tickFormat(d3.format(".1f")).tickSize(-AX_W).tickPadding(3));
  styleAxis(ya);
  // nudge the two corner "0.0" labels apart slightly so they do not collide
  ya.selectAll(".tick text").filter(d => d === 0).attr("dy", "0.1em");
  g.append("rect").attr("width", AX_W).attr("height", AX_H).attr("fill", "none").attr("stroke", SPINE).attr("stroke-width", 1.25);
});
</script></body></html>
